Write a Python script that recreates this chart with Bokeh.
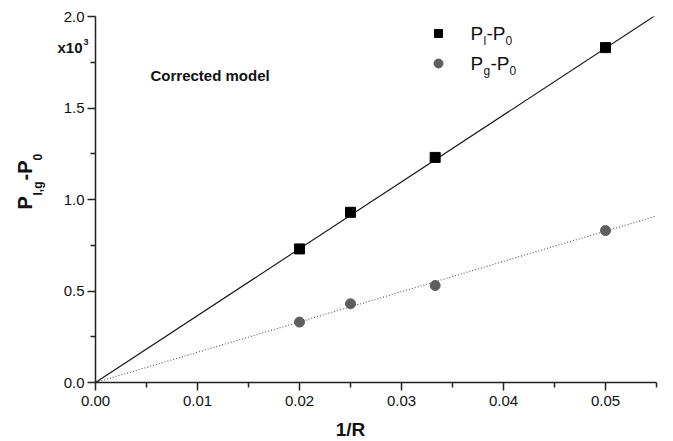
import math
from bokeh.plotting import figure
from bokeh.models import Range1d, FixedTicker, PrintfTickFormatter
from bokeh.core.properties import value
from bokeh.embed import file_html
from bokeh.resources import INLINE

# ---- data ----
inv_R = [0.02, 0.025, 0.0333, 0.05]
p_l = [0.73, 0.93, 1.23, 1.83]          # x10^3
p_g = [0.33, 0.43, 0.53, 0.83]          # x10^3
fit_x = [0.0, 0.055]
fit_l = [0.0, 2.01]
fit_g = [0.0, 0.91]
x_ticks = [0.0, 0.01, 0.02, 0.03, 0.04, 0.05]
x_minor = [0.005, 0.015, 0.025, 0.035, 0.045, 0.055]
y_ticks = [0.0, 0.5, 1.0, 1.5, 2.0]
y_minor = [0.25, 0.75, 1.25, 1.75]

W, H = 665, 441
FL, FR, FT, FB = 95, 656, 16, 382   # frame edges in canvas px
XMAX, YMAX = 0.055, 2.0

p = figure(width=W, height=H, output_backend="svg", toolbar_location=None,
           x_range=Range1d(0, XMAX), y_range=Range1d(0, YMAX),
           min_border_left=FL, min_border_right=W - FR,
           min_border_top=FT, min_border_bottom=H - FB)
p.outline_line_color = None
p.xgrid.grid_line_color = None
p.ygrid.grid_line_color = None
p.background_fill_color = "white"

FONT = "Liberation Sans"
for ax in (p.xaxis[0], p.yaxis[0]):
    ax.axis_line_width = 1.5
    ax.axis_line_color = "#222222"
    ax.major_tick_line_color = "#222222"
    ax.minor_tick_line_color = "#222222"
    ax.major_tick_line_width = 1.5
    ax.minor_tick_line_width = 1.5
    ax.major_tick_out = 8
    ax.major_tick_in = 0
    ax.minor_tick_out = 5
    ax.minor_tick_in = 0
    ax.major_label_text_font = FONT
    ax.major_label_text_font_size = "15px"
    ax.major_label_text_color = "#111111"
    ax.axis_label = None

p.xaxis[0].ticker = FixedTicker(ticks=x_ticks, minor_ticks=x_minor)
p.yaxis[0].ticker = FixedTicker(ticks=y_ticks, minor_ticks=y_minor)
p.xaxis[0].formatter = PrintfTickFormatter(format="%.2f")
p.yaxis[0].formatter = PrintfTickFormatter(format="%.1f")
p.xaxis[0].major_label_standoff = 5
p.yaxis[0].major_label_standoff = 3

# fit lines
p.line(fit_x, fit_l, line_color="#111111", line_width=1.1)
p.line(fit_x, fit_g, line_color="#555555", line_width=1.1, line_dash="1 2")

# data markers
p.scatter(inv_R, p_l, marker="square", size=10, fill_color="black", line_color="black")
p.scatter(inv_R, p_g, marker="circle", size=10, fill_color="#5e5e5e", line_color="#5e5e5e")


def dx(px):
    """canvas x pixel -> data x"""
    return (px - FL) / (FR - FL) * XMAX


def dy(py):
    """canvas y pixel -> data y"""
    return (FB - py) / (FB - FT) * YMAX


def lab(text, px, py, size, bold=False, color="#111111", angle=0.0,
        align="left", baseline="middle"):
    p.text(x=[dx(px)], y=[dy(py)], text=[text],
           text_font=value(FONT), text_font_size=f"{size}px",
           text_font_style="bold" if bold else "normal",
           text_color=color, angle=angle,
           text_align=align, text_baseline=baseline, level="overlay")


# legend
p.scatter([dx(438)], [dy(33)], marker="square", size=8, fill_color="black", line_color="black")
p.scatter([dx(438)], [dy(63)], marker="circle", size=9, fill_color="#5e5e5e", line_color="#5e5e5e")
lab("P", 470, 33, 19)
lab("l", 483, 40, 12)
lab("-P", 486, 33, 19)
lab("0", 505, 40, 12)
lab("P", 470, 63, 19)
lab("g", 483, 70, 12)
lab("-P", 490, 63, 19)
lab("0", 509, 70, 12)

# annotation
lab("Corrected model", 150, 75, 15, bold=True)

# x10^3 multiplier
lab("x10", 57, 47, 15, bold=True)
lab("3", 83, 41, 9, bold=True)

# x-axis title
lab("1/R", 350, 429, 19, bold=True, align="center")

# y-axis title (rotated)
A = math.pi / 2
lab("P", 24, 209, 20, bold=True, angle=A)
lab("l,g", 37, 195, 12, bold=True, angle=A)
lab("-P", 24, 180, 20, bold=True, angle=A)
lab("0", 37, 160, 12, bold=True, angle=A)

open("out.html", "w").write(file_html(p, INLINE))
